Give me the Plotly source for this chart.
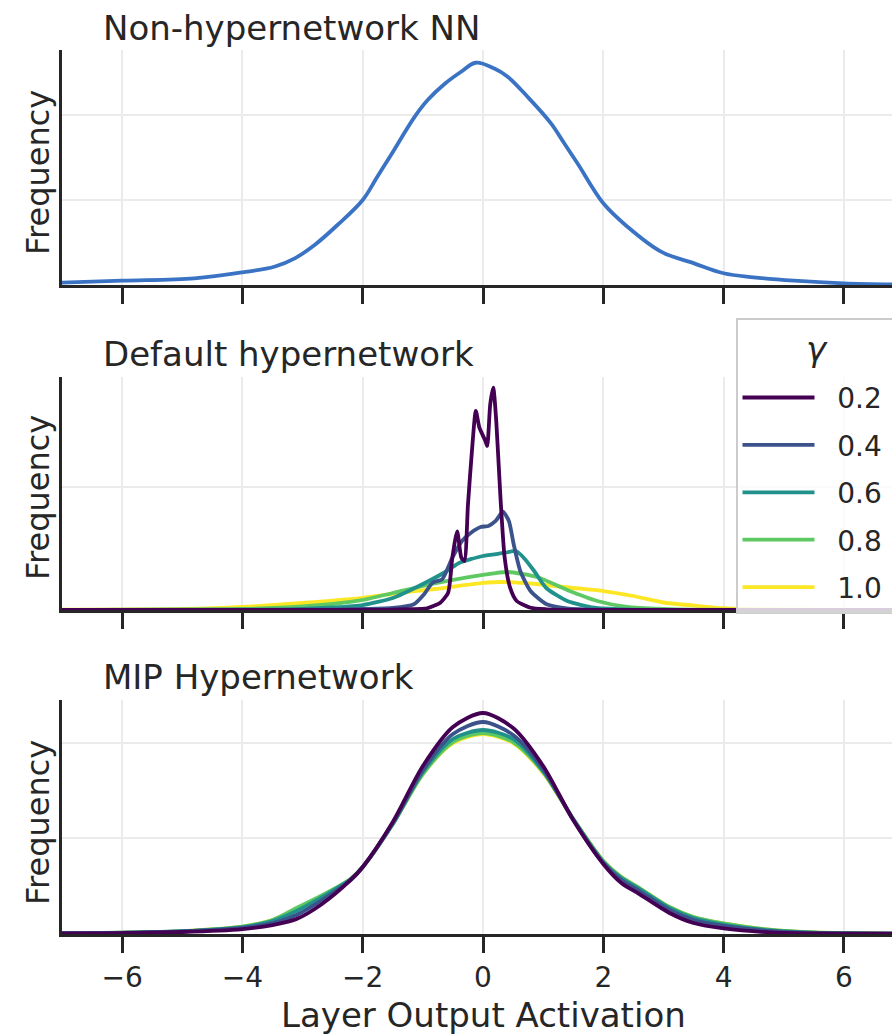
import plotly.graph_objects as go

# ---------------- data ----------------
gammas = ["0.2", "0.4", "0.6", "0.8", "1.0"]
colors = ["#440154", "#3b528b", "#21918c", "#5ec962", "#fde725"]
x_ticks = [-6, -4, -2, 0, 2, 4, 6]

# Panel 1: non-hypernetwork NN
nn_x = [-7, -6, -4.8, -4, -3.47, -3.13, -2.8, -2.42, -2, -1.76, -1.53, -1.14, -0.92, -0.64, -0.37,
        -0.12, 0.18, 0.41, 0.74, 1.13, 1.35, 1.57, 2.0, 2.40, 2.96, 3.51, 4.0, 4.5, 5.17, 6.0, 6.8]
nn_y = [0.0027, 0.0051, 0.0079, 0.0149, 0.0215, 0.0314, 0.0471, 0.0706, 0.1, 0.1271, 0.153, 0.1976,
        0.2176, 0.2365, 0.2506, 0.2615, 0.255, 0.2451, 0.2215, 0.1902, 0.1667, 0.1432, 0.0961, 0.0686,
        0.0392, 0.0255, 0.0138, 0.0091, 0.0051, 0.002, 0.0008]

# Panel 2: default hypernetwork
def_x_02 = [-7, -1.6, -1.2, -0.93, -0.71, -0.58, -0.51, -0.43, -0.36, -0.31, -0.25, -0.18, -0.12, -0.06,
            0.04, 0.07, 0.12, 0.17, 0.22, 0.29, 0.36, 0.45, 0.56, 0.79, 1.06, 1.5, 7]
def_y_02 = [0, 0.0008, 0.0033, 0.0069, 0.0297, 0.0703, 0.2126, 0.3199, 0.2126, 0.1992, 0.4297, 0.6598,
            0.8089, 0.7411, 0.687, 0.6667, 0.8362, 0.9037, 0.7683, 0.4565, 0.2126, 0.0907, 0.0366,
            0.0093, 0.0028, 0, 0]
def_x_04 = [-7, -2.5, -2, -1.5, -1.15, -0.98, -0.84, -0.68, -0.51, -0.35, -0.2, -0.04, 0.09, 0.21, 0.33,
            0.43, 0.51, 0.62, 0.79, 1.06, 1.39, 2, 7]
def_y_04 = [0, 0.0012, 0.0041, 0.0081, 0.0232, 0.0638, 0.111, 0.1248, 0.2126, 0.2805, 0.3142, 0.3374,
            0.3415, 0.3618, 0.3996, 0.3618, 0.2671, 0.1585, 0.0772, 0.0232, 0.0069, 0.0008, 0]
def_x_06 = [-7, -3.5, -3, -2.5, -2, -1.5, -1, -0.6, -0.4, 0, 0.35, 0.55, 0.68, 0.85, 1.05, 1.4, 1.85,
            2.4, 3, 7]
def_y_06 = [0, 0.0012, 0.0041, 0.0102, 0.0203, 0.0488, 0.1057, 0.1585, 0.1911, 0.2195, 0.2317, 0.2398,
            0.2114, 0.1585, 0.0894, 0.0366, 0.0093, 0.002, 0, 0]
def_x_08 = [-7, -4, -3, -2.5, -2, -1.5, -1, -0.5, 0, 0.4, 0.9, 1.4, 1.9, 2.4, 3, 3.5, 7]
def_y_08 = [0, 0.0041, 0.0142, 0.0244, 0.0407, 0.0691, 0.0976, 0.122, 0.1423, 0.1545, 0.1341, 0.0813,
            0.0366, 0.0122, 0.0041, 0.0012, 0]
def_x_10 = [-7, -5, -4, -3, -2, -1.4, -0.8, 0, 0.3, 0.9, 1.5, 2, 2.5, 3, 3.5, 4, 4.5, 5, 7]
def_y_10 = [0.0012, 0.0041, 0.0122, 0.0285, 0.0488, 0.0691, 0.0854, 0.1098, 0.1138, 0.1057, 0.0894,
            0.0772, 0.0569, 0.0305, 0.0183, 0.0073, 0.0033, 0.0012, 0]

# Panel 3: MIP hypernetwork
mip_x = [-7, -6, -5, -4, -3.5, -3.1, -2.7, -2.2, -2.0, -1.5, -1.0, -0.5, 0, 0.5, 1.0, 1.5, 2.0, 2.3,
         2.6, 3.1, 3.5, 4.0, 4.8, 5.5, 7]
mip_y_02 = [0.0005, 0.001, 0.0021, 0.0052, 0.0094, 0.0157, 0.0303, 0.0565, 0.0701, 0.1172, 0.1757,
            0.2165, 0.2312, 0.2155, 0.1757, 0.1192, 0.0732, 0.0533, 0.0418, 0.022, 0.0115, 0.0058,
            0.0016, 0.0006, 0.0002]
mip_y_04 = [0.0005, 0.0012, 0.0026, 0.0063, 0.0115, 0.0199, 0.0345, 0.0565, 0.0701, 0.1161, 0.1715,
            0.2092, 0.2218, 0.2082, 0.1726, 0.1192, 0.0743, 0.0565, 0.045, 0.0251, 0.0146, 0.0084,
            0.0029, 0.001, 0.0002]
mip_y_06 = [0.0006, 0.0013, 0.0029, 0.0073, 0.0136, 0.0241, 0.0377, 0.0575, 0.0701, 0.1151, 0.1695,
            0.204, 0.2134, 0.204, 0.1705, 0.1203, 0.0753, 0.0586, 0.0471, 0.0272, 0.0167, 0.0099,
            0.0037, 0.0014, 0.0003]
mip_y_08 = [0.0006, 0.0013, 0.0031, 0.0078, 0.0146, 0.0272, 0.0397, 0.0575, 0.0701, 0.1151, 0.1674,
            0.2008, 0.2103, 0.2008, 0.1695, 0.1203, 0.0764, 0.0596, 0.0481, 0.0282, 0.0178, 0.0112,
            0.0042, 0.0016, 0.0003]
mip_y_10 = [0.0006, 0.0013, 0.0031, 0.0078, 0.0146, 0.0262, 0.0387, 0.0575, 0.0701, 0.1151, 0.1674,
            0.1998, 0.2092, 0.1998, 0.1684, 0.1203, 0.0764, 0.0596, 0.0481, 0.0282, 0.0178, 0.011,
            0.0042, 0.0016, 0.0003]

panel_titles = ["Non-hypernetwork NN", "Default hypernetwork", "MIP Hypernetwork"]
y_label = "Frequency"
x_label = "Layer Output Activation"
legend_title = "\u03b3"

# ---------------- figure ----------------
W, H = 892, 1035
ML = 62
PW = W - ML
FONT = "DejaVu Sans"
TXT = "#262626"

def py(p):
    return 1 - p / H

fig = go.Figure()
LW = 3.8

fig.add_trace(go.Scatter(x=nn_x, y=nn_y, mode="lines",
                         line=dict(color="#3b73c4", width=LW, shape="spline", smoothing=1.0),
                         xaxis="x", yaxis="y", showlegend=False, hoverinfo="skip"))

def_series = [(def_x_02, def_y_02), (def_x_04, def_y_04), (def_x_06, def_y_06), (def_x_08, def_y_08), (def_x_10, def_y_10)]
mip_series = [mip_y_02, mip_y_04, mip_y_06, mip_y_08, mip_y_10]

NB = "\u00a0\u00a0"
for i in reversed(range(5)):
    dx, dy = def_series[i]
    fig.add_trace(go.Scatter(x=dx, y=dy, mode="lines", name=NB + gammas[i] + "\u00a0", legendrank=i + 1,
                             legendgroup=gammas[i],
                             line=dict(color=colors[i], width=LW, shape="spline", smoothing=0.6),
                             xaxis="x2", yaxis="y2", showlegend=True, hoverinfo="skip"))
for i in reversed(range(5)):
    fig.add_trace(go.Scatter(x=mip_x, y=mip_series[i], mode="lines", name=gammas[i],
                             legendgroup=gammas[i],
                             line=dict(color=colors[i], width=LW, shape="spline", smoothing=0.8),
                             xaxis="x3", yaxis="y3", showlegend=False, hoverinfo="skip"))

panels = [(50, 285, 0.1, 0.2765), (377, 610, 0.5, 0.947), (700, 934, 0.1, 0.2448)]
xrange = [-7, 6.80]
for k, (top, bot, dt, ymax) in enumerate(panels):
    sfx = "" if k == 0 else str(k + 1)
    fig.update_layout(**{
        "xaxis" + sfx: dict(domain=[0, 1], range=xrange, anchor="y" + sfx, tickvals=x_ticks,
                            ticktext=["\u2212" + str(-v) if v < 0 else str(v) for v in x_ticks],
                            showticklabels=(k == 2), ticks="outside", ticklen=16, tickwidth=2.5,
                            tickcolor=TXT, showline=True, linecolor=TXT, linewidth=3,
                            showgrid=True, gridcolor="#ebebeb", gridwidth=1.6, zeroline=False,
                            tickfont=dict(family=FONT, size=28, color=TXT)),
        "yaxis" + sfx: dict(domain=[py(bot), py(top)], range=[0, ymax], anchor="x" + sfx,
                            dtick=dt, tick0=0, showticklabels=False, ticks="",
                            showline=True, linecolor=TXT, linewidth=3,
                            showgrid=True, gridcolor="#ebebeb", gridwidth=1.6, zeroline=False),
    })

title_centers = [27.5, 353.5, 677]
ylab_centers = [173, 498, 823]
annotations = []
for k in range(3):
    annotations.append(dict(text=panel_titles[k], xref="paper", yref="paper", x=(101 - ML) / PW,
                            y=py(title_centers[k]), xanchor="left", yanchor="middle", showarrow=False,
                            font=dict(family=FONT, size=34, color=TXT)))
    annotations.append(dict(text=y_label, xref="paper", yref="paper", x=(38 - ML) / PW,
                            y=py(ylab_centers[k]), xanchor="center", yanchor="middle", textangle=-90,
                            showarrow=False, font=dict(family=FONT, size=32, color=TXT)))
annotations.append(dict(text=x_label, xref="x3", yref="paper", x=0, y=py(1015), xanchor="center",
                        yanchor="middle", showarrow=False, font=dict(family=FONT, size=34, color=TXT)))

fig.update_layout(
    width=W, height=H,
    margin=dict(l=ML, r=0, t=0, b=0, autoexpand=False),
    plot_bgcolor="white", paper_bgcolor="white",
    font=dict(family=FONT, color=TXT),
    annotations=annotations,
    legend=dict(x=(736 - ML) / PW, xanchor="left", y=py(318), yanchor="top",
                bgcolor="rgba(255,255,255,0.8)", bordercolor="#cccccc", borderwidth=1.5,
                font=dict(family=FONT, size=28, color=TXT),
                title=dict(text="<span style='font-size:34px;font-style:italic;baseline-shift:12px'>"
                                + legend_title + "</span>",
                           side="top center", font=dict(family=FONT, size=41, color=TXT)),
                itemwidth=72, tracegroupgap=8),
)

fig.write_html("out.html", config={"displayModeBar": False},
               post_script="document.body.style.margin='0px';document.body.style.overflow='hidden';")
